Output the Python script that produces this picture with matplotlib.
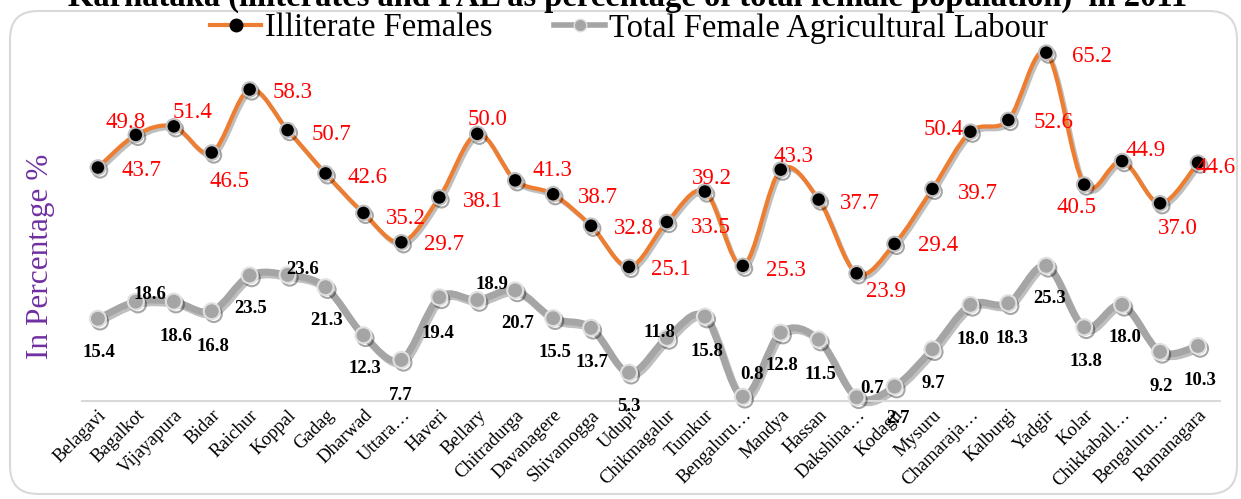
import numpy as np
import matplotlib
matplotlib.use('Agg')
import matplotlib.pyplot as plt
import matplotlib.patheffects as pe
from matplotlib.path import Path
from matplotlib.patches import PathPatch, FancyBboxPatch
from matplotlib.lines import Line2D
from matplotlib.transforms import IdentityTransform

# district names as shown on the axis (Excel truncates long ones)
districts = ['Belagavi', 'Bagalkot', 'Vijayapura', 'Bidar', 'Raichur', 'Koppal',
             'Gadag', 'Dharwad', 'Uttara…', 'Haveri', 'Bellary', 'Chitradurga',
             'Davanagere', 'Shivamogga', 'Udupi', 'Chikmagalur', 'Tumkur',
             'Bengaluru…', 'Mandya', 'Hassan', 'Dakshina…', 'Kodagu', 'Mysuru',
             'Chamaraja…', 'Kalburgi', 'Yadgir', 'Kolar', 'Chikkaball…',
             'Bengaluru…', 'Ramanagara']

illiterate = [43.7, 49.8, 51.4, 46.5, 58.3, 50.7, 42.6, 35.2, 29.7, 38.1,
              50.0, 41.3, 38.7, 32.8, 25.1, 33.5, 39.2, 25.3, 43.3, 37.7,
              23.9, 29.4, 39.7, 50.4, 52.6, 65.2, 40.5, 44.9, 37.0, 44.6]

fal = [15.4, 18.6, 18.6, 16.8, 23.5, 23.6, 21.3, 12.3, 7.7, 19.4,
       18.9, 20.7, 15.5, 13.7, 5.3, 11.8, 15.8, 0.8, 12.8, 11.5,
       0.7, 2.7, 9.7, 18.0, 18.3, 25.3, 13.8, 18.0, 9.2, 10.3]

# where each data label sits relative to its point (pixels, +y = down)
ill_off = [(44, 3), (-10, -12), (19, -14), (18, 29), (43, 3), (44, 4), (42, 4),
           (42, 6), (43, 2), (43, 4), (10, -14), (37, -10), (45, 3), (43, 3),
           (42, 3), (44, 5), (7, -13), (43, 5), (13, -13), (41, 4), (29, 18),
           (44, 2), (45, 5), (-27, -2), (45, 3), (46, 4), (-8, 23), (23, -11),
           (18, 25), (18, 5)]
fal_off = [(1, 34), (14, -7), (2, 35), (1, 35), (1, 33), (15, -5), (1, 33),
           (1, 33), (-1, 36), (-1, 36), (15, -16), (2, 33), (2, 34), (1, 35),
           (0, 34), (-7, -5), (2, 35), (9, -22), (1, 33), (2, 35), (15, -9),
           (3, 32), (1, 34), (3, 35), (4, 35), (3, 33), (2, 34), (3, 33),
           (1, 35), (2, 35)]

ORANGE = '#ED7D31'
GREY = '#A5A5A5'

plt.rcParams['font.family'] = ['Liberation Serif', 'DejaVu Serif']

W, H = 1241, 499
fig = plt.figure(figsize=(W / 100, H / 100), dpi=100)
ax = fig.add_axes([82 / W, 1 - 401 / H, (1220 - 82) / W, 374 / H])
ax.set_xlim(-0.42, 29.58)
ax.set_ylim(0, 70)


def smooth_path(ys):
    # Excel style smoothed line: cubic bezier, catmull-rom control points
    pts = np.column_stack([np.arange(len(ys)), ys]).astype(float)
    verts = [pts[0]]
    codes = [Path.MOVETO]
    n = len(pts)
    for i in range(n - 1):
        p0 = pts[max(i - 1, 0)]
        p1 = pts[i]
        p2 = pts[i + 1]
        p3 = pts[min(i + 2, n - 1)]
        verts += [p1 + (p2 - p0) / 6, p2 - (p3 - p1) / 6, p2]
        codes += [Path.CURVE4] * 3
    return Path(verts, codes)


shadow = [pe.SimpleLineShadow(offset=(1.5, -2), shadow_color='black', alpha=0.25), pe.Normal()]

ax.add_patch(PathPatch(smooth_path(fal), fill=False, edgecolor=GREY, lw=5,
                       capstyle='round', joinstyle='round', clip_on=False,
                       path_effects=shadow, zorder=2))
ax.plot(range(len(fal)), fal, ls='none', marker='o', ms=11.5, mfc=GREY,
        mec='#E0E0E0', mew=1.5, clip_on=False, zorder=3,
        path_effects=[pe.SimpleLineShadow(offset=(1.5, -2), alpha=0.35), pe.Normal()])

ax.add_patch(PathPatch(smooth_path(illiterate), fill=False, edgecolor=ORANGE, lw=3,
                       capstyle='round', joinstyle='round', clip_on=False,
                       path_effects=shadow, zorder=4))
ax.plot(range(len(illiterate)), illiterate, ls='none', marker='o', ms=10.5, mfc='black',
        mec='#BFBFBF', mew=1.5, clip_on=False, zorder=5,
        path_effects=[pe.SimpleLineShadow(offset=(1.5, -2), alpha=0.35), pe.Normal()])

for i, v in enumerate(illiterate):
    dx, dy = ill_off[i]
    ax.annotate(f'{v:.1f}', (i, v), xytext=(dx, -dy), textcoords='offset pixels',
                ha='center', va='center', color='red', fontsize=16.5, zorder=6,
                annotation_clip=False)
for i, v in enumerate(fal):
    dx, dy = fal_off[i]
    ax.annotate(f'{v:.1f}', (i, v), xytext=(dx, -dy), textcoords='offset pixels',
                ha='center', va='center', color='black', fontsize=13.5,
                fontweight='bold', zorder=6, annotation_clip=False)

for s in ['top', 'right', 'left']:
    ax.spines[s].set_visible(False)
ax.spines['bottom'].set_color('#D9D9D9')
ax.spines['bottom'].set_linewidth(1.5)
ax.set_yticks([])
ax.set_xticks(range(len(districts)))
ax.set_xticklabels(districts, rotation=45, ha='right', rotation_mode='anchor', fontsize=13.5)
ax.tick_params(axis='x', length=0, pad=4)

fig.text(41 / W, 1 - 256 / H, 'In Percentage %', rotation=90, ha='center', va='center',
         color='#7030A0', fontsize=22.5)

fig.text(628 / W, 1 - 6 / H,
         'Karnataka (illiterates and FAL as percentage of total female population)  in 2011',
         ha='center', va='baseline', fontsize=23.5, fontweight='bold')

handles = [Line2D([], [], color=ORANGE, lw=3, marker='o', ms=9, mfc='black', mec='black'),
           Line2D([], [], color=GREY, lw=4, marker='o', ms=9, mfc=GREY, mec='#E0E0E0')]
fig.legend(handles, ['Illiterate Females', 'Total Female Agricultural Labour'],
           loc='center', bbox_to_anchor=(629 / W, 1 - 28 / H), ncol=2, frameon=False,
           fontsize=23.5, handlelength=1.55, handletextpad=0.12, columnspacing=1.9,
           borderaxespad=0, borderpad=0)

fig.patches.append(FancyBboxPatch((10, 5), 1227, 483, boxstyle='round,pad=0,rounding_size=28',
                                  transform=IdentityTransform(), fill=False,
                                  edgecolor='#D9D9D9', lw=1.5, figure=fig))

fig.savefig('out.png', dpi=100)
